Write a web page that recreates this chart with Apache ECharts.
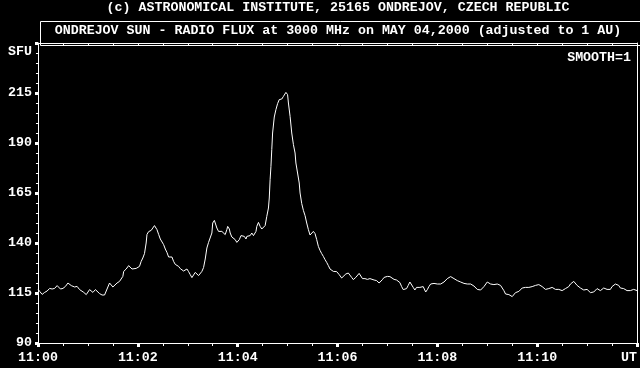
<!DOCTYPE html>
<html>
<head>
<meta charset="utf-8">
<script src="https://cdn.jsdelivr.net/npm/echarts@6/dist/echarts.min.js"></script>
<style>
html,body{margin:0;padding:0;background:#000;}
#chart{width:640px;height:368px;}
</style>
</head>
<body>
<div id="chart"></div>
<script>
// Titles
var titleTop = '(c) ASTRONOMICAL INSTITUTE, 25165 ONDREJOV, CZECH REPUBLIC';
var titleMain = 'ONDREJOV SUN - RADIO FLUX at 3000 MHz on MAY 04,2000 (adjusted to 1 AU)';
var smoothText = 'SMOOTH=1';
var yUnit = 'SFU';
var xEndLabel = 'UT';

// Labelled y ticks (SFU)
var yLabelValues = [90, 115, 140, 165, 190, 215];

// Time (s after 11:00 UT) and flux (SFU), segment by segment
var sec1 = [0,2,5,8,11,14,17,20,23,25,27,30,33,36,38,40,42,44,47,50,52,55,58,60,62,64,66,69,71,74,77,80,82,84,86,88,90,92,95,98,100,102,103,106,109,111,113,115,118];
var flux1 = [117.0,115.8,114.3,115.3,116.0,117.3,117.0,117.3,118.7,118.0,117.0,117.3,118.3,120.0,119.2,118.7,119.7,118.0,118.3,116.7,117.7,115.3,114.2,115.0,116.7,116.0,115.3,116.7,115.8,114.7,114.0,114.0,115.0,118.0,120.0,119.0,118.0,119.0,120.0,120.8,121.2,123.3,125.8,127.0,128.7,128.0,127.0,127.7,127.3];

var sec2 = [120,122,124,126,128,130,131,133,136,138,140,141,143,145,147,149,151,153,155,157,159,161,163,165,167,169,171,173,175,177,179,181,183,185,187,189,191,193,195,197,199,201,203,205,207,209,210,212,214,215,217,219,221,223,225,227,228,230,231,233,235,237,239];
var flux2 = [128.0,128.3,130.8,132.5,134.7,140.0,144.3,145.7,146.3,147.5,148.7,149.2,146.7,144.3,142.0,141.0,139.2,137.0,135.3,133.0,132.0,133.0,130.8,129.3,129.2,128.3,127.2,126.7,126.0,126.3,127.0,125.7,124.2,122.7,123.7,125.3,124.7,123.7,124.7,125.8,127.7,132.0,137.5,140.3,141.3,145.0,150.0,151.3,150.8,147.5,145.8,145.5,145.8,145.0,144.2,146.7,148.3,147.0,145.0,143.0,142.7,141.7,140.3];

var sec3 = [240,242,244,246,248,250,251,253,255,257,259,261,262,263,265,267,269,271,273,275,277,278,279,280,281,282,284,286,288,290,291,293,295,297,298,300,301,303,305,307,309,310,312,314,315,317,319,321,323,325,327,329,331,333,335,337,339,341,343,345,347,349,351,353,355,357,359];
var flux3 = [140.0,141.7,143.7,144.7,143.3,142.0,143.3,142.5,143.7,145.0,143.7,143.0,145.8,148.3,150.3,148.3,147.0,147.3,148.7,153.3,157.5,162.5,171.7,178.3,186.7,195.0,203.0,206.7,209.7,211.7,212.0,212.0,213.3,214.2,215.3,214.2,210.0,203.3,195.0,189.2,185.0,180.0,175.0,170.0,165.0,159.7,156.3,153.7,150.0,146.7,144.0,144.7,145.8,144.7,141.7,138.3,136.3,134.7,133.3,131.7,130.3,128.7,127.0,126.3,125.8,126.7,125.7];

var sec4 = [360,362,365,367,370,373,375,377,379,382,384,386,388,390,393,396,399,401,404,407,410,412,414,416,418,420,423,425,428,431,433,435,437,439,441,443,445,447,449,451,453,455,457,459,461,463,465,466,468,470,472,474,476,478,480,482,484,486,488,490,492,494,496,498,500,502,504,506,508,510,512,514,516,518,520,522,524,526,528,530,532,534,536,538];
var flux4 = [125.0,124.2,122.5,123.3,124.5,125.0,124.5,122.8,121.7,122.8,123.8,124.8,123.8,122.2,122.2,121.8,122.2,121.2,121.5,121.2,120.0,120.5,121.7,122.8,123.8,123.3,123.2,122.2,121.8,121.5,121.8,120.2,118.3,116.7,116.2,117.2,118.8,120.5,119.5,117.8,116.5,117.8,118.8,117.8,117.2,118.2,117.5,115.5,116.7,118.3,119.5,119.5,119.8,119.2,119.5,120.2,119.5,120.0,120.5,121.5,122.2,122.5,123.2,122.8,122.2,121.8,121.2,120.8,120.5,120.8,119.8,120.0,119.5,119.2,119.5,118.8,118.5,118.2,116.8,116.2,116.5,116.8,118.2,119.2];

var sec5 = [540,542,544,546,548,550,552,554,556,558,560,562,564,566,568,570,572,574,576,578,580,582,584,586,588,590,592,594,596,598,600,602,604,606,608,610,612,614,616,618,620,622,624,626,628,630,632,634,636,638,640,642,644,646,648,650,652,654,656,658,660,662,664,666,668,670,672,674,676,678,680,682,684,686,688,690,692,694,696,698,700,702,704,706,708,710,712,714,716,718,720];
var flux5 = [120.5,120.2,119.5,119.8,119.2,118.8,119.5,119.2,118.8,117.8,116.2,114.5,113.8,114.2,113.3,113.2,114.2,115.2,115.5,115.8,116.8,117.5,118.2,117.8,118.2,117.8,118.2,118.2,118.5,118.8,118.7,119.2,118.8,118.2,117.5,116.8,116.5,117.2,117.8,117.8,117.2,116.8,116.8,116.8,116.5,116.2,116.8,117.2,117.8,118.2,119.5,120.5,120.8,119.8,118.8,118.2,117.5,117.2,116.5,116.2,116.8,115.8,115.2,114.8,115.5,116.5,117.2,116.8,116.2,117.2,117.5,117.2,116.8,116.5,116.8,118.2,119.2,119.5,120.2,118.8,117.5,117.2,117.2,116.8,116.2,115.8,116.2,116.8,116.8,116.5,116.2];

var secs = sec1.concat(sec2, sec3, sec4, sec5);
var flux = flux1.concat(flux2, flux3, flux4, flux5);
var data = secs.map(function (s, i) { return [s, flux[i]]; });

var FONT = 'Liberation Mono';
var txt = { color: '#fff', fontFamily: FONT, fontSize: 13.3, fontWeight: 'bold' };

function xLabel(v) {
  if (v >= 720) return xEndLabel;
  var m = Math.round(v / 60);
  return '11:' + (m < 10 ? '0' + m : m);
}

var chart = echarts.init(document.getElementById('chart'), null, { renderer: 'canvas' });
chart.setOption({
  backgroundColor: '#000',
  animation: false,
  title: [
    { text: titleTop, left: 338, top: 1, padding: 0, textAlign: 'center',
      textStyle: Object.assign({ lineHeight: 14 }, txt) },
    { text: titleMain, left: 338, top: 24, padding: 0, textAlign: 'center',
      textStyle: Object.assign({ lineHeight: 14 }, txt) },
    { text: smoothText, right: 9, top: 51, padding: 0,
      textStyle: Object.assign({ lineHeight: 14 }, txt) }
  ],
  graphic: [
    { type: 'rect', left: 38, top: 19, silent: true,
      shape: { width: 600, height: 24 },
      style: { fill: 'none', stroke: '#fff', lineWidth: 1 } }
  ],
  grid: { left: 38, right: 2, top: 43, bottom: 25, show: false },
  xAxis: [
    {
      type: 'value', min: 0, max: 720, interval: 120, position: 'bottom',
      axisLine: { show: true, onZero: false, lineStyle: { color: '#fff', width: 1 } },
      axisTick: { show: true, length: 4, lineStyle: { color: '#fff', width: 3 } },
      minorTick: { show: true, splitNumber: 4, length: 3, lineStyle: { color: '#fff', width: 1 } },
      splitLine: { show: false },
      axisLabel: Object.assign({ margin: 8, formatter: xLabel, alignMaxLabel: 'right' }, txt)
    },
    {
      type: 'value', min: 0, max: 720, interval: 120, position: 'top',
      axisLine: { show: true, onZero: false, lineStyle: { color: '#fff', width: 1 } },
      axisTick: { show: true, inside: true, length: 3, lineStyle: { color: '#fff', width: 1 } },
      minorTick: { show: true, splitNumber: 4, length: 3, lineStyle: { color: '#fff', width: 1 } },
      splitLine: { show: false },
      axisLabel: { show: false }
    }
  ],
  yAxis: [
    {
      type: 'value', min: 90, max: 240, interval: 25, position: 'left',
      name: yUnit, nameLocation: 'end', nameGap: -9,
      nameTextStyle: Object.assign({ align: 'right', verticalAlign: 'middle', padding: [0, 6, 0, 0] }, txt),
      axisLine: { show: true, onZero: false, lineStyle: { color: '#fff', width: 1 } },
      axisTick: { show: true, length: 3, lineStyle: { color: '#fff', width: 3 } },
      minorTick: { show: true, splitNumber: 5, length: 2, lineStyle: { color: '#fff', width: 1 } },
      splitLine: { show: false },
      axisLabel: Object.assign({
        margin: 6,
        formatter: function (v) { return yLabelValues.indexOf(v) >= 0 ? String(v) : ''; }
      }, txt)
    },
    {
      type: 'value', min: 90, max: 240, interval: 25, position: 'right',
      axisLine: { show: true, onZero: false, lineStyle: { color: '#fff', width: 1 } },
      axisTick: { show: false }, axisLabel: { show: false }, splitLine: { show: false }
    }
  ],
  series: [{
    type: 'line', data: data, xAxisIndex: 0, yAxisIndex: 0,
    showSymbol: false, symbol: 'none', smooth: false,
    lineStyle: { color: '#fff', width: 1 }
  }]
});
</script>
</body>
</html>
